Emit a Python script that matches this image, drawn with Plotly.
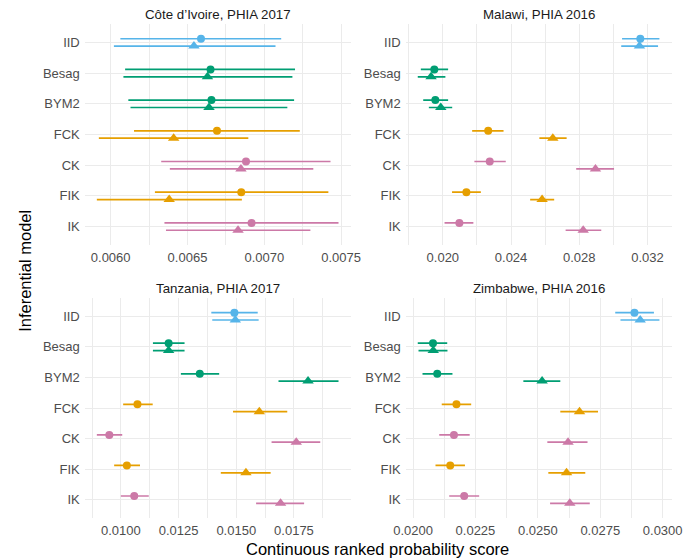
import plotly.graph_objects as go

models = ['IID', 'Besag', 'BYM2', 'FCK', 'CK', 'FIK', 'IK']
model_colours = ['#56B4E9', '#009E73', '#009E73', '#E69F00', '#CC79A7', '#E69F00', '#CC79A7']

# Côte d'Ivoire, PHIA 2017 (circle series = a, triangle series = b)
civ_mean_a = [0.006588, 0.00665, 0.006656, 0.006692, 0.006881, 0.00685, 0.006917]
civ_lo_a = [0.006063, 0.006094, 0.006115, 0.006152, 0.006329, 0.006288, 0.00635]
civ_hi_a = [0.00711, 0.0072, 0.007194, 0.007231, 0.007431, 0.007417, 0.007483]
civ_mean_b = [0.006542, 0.00663, 0.00664, 0.00641, 0.006848, 0.006381, 0.006829]
civ_lo_b = [0.006021, 0.006083, 0.006129, 0.005923, 0.006385, 0.00591, 0.00636]
civ_hi_b = [0.007073, 0.007183, 0.00715, 0.006896, 0.007319, 0.006854, 0.0073]

# Malawi, PHIA 2016
mwi_mean_a = [0.03158, 0.0195, 0.01956, 0.02266, 0.02275, 0.02138, 0.02097]
mwi_lo_a = [0.03051, 0.01871, 0.01885, 0.02172, 0.02185, 0.02054, 0.0201]
mwi_hi_a = [0.0327, 0.02031, 0.02031, 0.02356, 0.02369, 0.02223, 0.02179]
mwi_mean_b = [0.03153, 0.01931, 0.01988, 0.02645, 0.02895, 0.02582, 0.02823]
mwi_lo_b = [0.03046, 0.01853, 0.01918, 0.02566, 0.02782, 0.02512, 0.0272]
mwi_hi_b = [0.03262, 0.02015, 0.02055, 0.02726, 0.03004, 0.02653, 0.02929]

# Tanzania, PHIA 2017
tza_mean_a = [0.01492, 0.01207, 0.01342, 0.01072, 0.0095, 0.01026, 0.01058]
tza_lo_a = [0.01392, 0.01139, 0.0126, 0.0101, 0.00896, 0.00971, 0.01]
tza_hi_a = [0.01593, 0.01276, 0.01426, 0.01138, 0.01006, 0.01083, 0.01121]
tza_mean_b = [0.01496, 0.01207, 0.01811, 0.016, 0.0176, 0.01542, 0.01692]
tza_lo_b = [0.01396, 0.01139, 0.01683, 0.01486, 0.01653, 0.01433, 0.01586]
tza_hi_b = [0.01597, 0.01276, 0.01943, 0.01721, 0.01864, 0.01649, 0.01794]

# Zimbabwe, PHIA 2016
zwe_mean_a = [0.02887, 0.0208, 0.02097, 0.02174, 0.02164, 0.02149, 0.02205]
zwe_lo_a = [0.0281, 0.02019, 0.02038, 0.02115, 0.02105, 0.0209, 0.02145]
zwe_hi_a = [0.02965, 0.02137, 0.02158, 0.02233, 0.02227, 0.02208, 0.02265]
zwe_mean_b = [0.0291, 0.02081, 0.02517, 0.02667, 0.02621, 0.02615, 0.02628]
zwe_lo_b = [0.02831, 0.02022, 0.02442, 0.0259, 0.02538, 0.02542, 0.02549]
zwe_hi_b = [0.02987, 0.02138, 0.0259, 0.02741, 0.02699, 0.0269, 0.02708]

# page body has an 8px margin, so the figure is drawn 8px in from the window corner
OFF = 8
W, H = 697 - OFF, 560 - OFF
GRID = '#EBEBEB'


def px_x(x):
    return (x - OFF) / W


def px_y(y):
    return 1 - (y - OFF) / H


panels = [
    dict(title="Côte d’Ivoire, PHIA 2017", data=(civ_mean_a, civ_lo_a, civ_hi_a, civ_mean_b, civ_lo_b, civ_hi_b),
         dtick=0.0005, fmt='.4f', x=(75, 350), y=(24, 245)),
    dict(title='Malawi, PHIA 2016', data=(mwi_mean_a, mwi_lo_a, mwi_hi_a, mwi_mean_b, mwi_lo_b, mwi_hi_b),
         dtick=0.004, fmt='.3f', x=(407, 682), y=(24, 245)),
    dict(title='Tanzania, PHIA 2017', data=(tza_mean_a, tza_lo_a, tza_hi_a, tza_mean_b, tza_lo_b, tza_hi_b),
         dtick=0.0025, fmt='.4f', x=(75, 350), y=(298, 518)),
    dict(title='Zimbabwe, PHIA 2016', data=(zwe_mean_a, zwe_lo_a, zwe_hi_a, zwe_mean_b, zwe_lo_b, zwe_hi_b),
         dtick=0.0025, fmt='.4f', x=(407, 682), y=(298, 518)),
]

fig = go.Figure()
layout = {}
annotations = []

for p, panel in enumerate(panels, 1):
    mean_a, lo_a, hi_a, mean_b, lo_b, hi_b = panel['data']
    xa = 'x' if p == 1 else f'x{p}'
    ya = 'y' if p == 1 else f'y{p}'

    for mean, lo, hi, symbol, size, dodge in [
        (mean_a, lo_a, hi_a, 'circle', 8, -0.12),
        (mean_b, lo_b, hi_b, 'triangle-up', 10, 0.12),
    ]:
        for i, m in enumerate(models):
            fig.add_trace(go.Scatter(
                x=[mean[i]],
                y=[i + dodge],
                mode='markers',
                marker=dict(symbol=symbol, size=size, color=model_colours[i], line=dict(width=0)),
                error_x=dict(type='data', symmetric=False,
                             array=[hi[i] - mean[i]], arrayminus=[mean[i] - lo[i]],
                             color=model_colours[i], thickness=1.7, width=0),
                xaxis=xa, yaxis=ya, showlegend=False, name=m,
            ))

    # ggplot style 5% expansion of the data range
    lows = min(lo_a + lo_b)
    highs = max(hi_a + hi_b)
    pad = (highs - lows) * 0.05

    x0, x1 = panel['x']
    y0, y1 = panel['y']
    layout['xaxis' if p == 1 else f'xaxis{p}'] = dict(
        domain=[px_x(x0), px_x(x1)], anchor=ya,
        range=[lows - pad, highs + pad], tick0=0, dtick=panel['dtick'], tickformat=panel['fmt'],
        showgrid=True, gridcolor=GRID, gridwidth=1, zeroline=False, showline=False, ticks='',
        minor=dict(dtick=panel['dtick'] / 2, showgrid=True, gridcolor=GRID, gridwidth=0.6),
        tickfont=dict(size=13, color='#4D4D4D'), ticklabelstandoff=3,
    )
    layout['yaxis' if p == 1 else f'yaxis{p}'] = dict(
        domain=[px_y(y1), px_y(y0)], anchor=xa,
        range=[6.6, -0.6], tickvals=list(range(len(models))), ticktext=models,
        showgrid=True, gridcolor=GRID, gridwidth=1, zeroline=False, showline=False, ticks='',
        tickfont=dict(size=13, color='#4D4D4D'), ticklabelstandoff=4,
    )
    annotations.append(dict(
        text=panel['title'], x=px_x((x0 + x1) / 2), y=px_y(y0 - 9.5), xref='paper', yref='paper',
        showarrow=False, font=dict(size=13.3, color='#1A1A1A'), xanchor='center', yanchor='middle',
        borderpad=0,
    ))

annotations.append(dict(
    text='Continuous ranked probability score', x=px_x(378), y=px_y(549), xref='paper', yref='paper',
    showarrow=False, font=dict(size=16.5, color='black'), xanchor='center', yanchor='middle', borderpad=0,
))
annotations.append(dict(
    text='Inferential model', x=px_x(13), y=px_y(271), xref='paper', yref='paper', textangle=-90,
    showarrow=False, font=dict(size=16.5, color='black'), xanchor='center', yanchor='middle', borderpad=0,
))

fig.update_layout(
    width=W,
    height=H,
    margin=dict(l=0, r=0, t=0, b=0),
    plot_bgcolor='white',
    paper_bgcolor='white',
    font=dict(family='Liberation Sans, Arial, sans-serif'),
    annotations=annotations,
    showlegend=False,
    **layout,
)

fig.write_html('out.html')
